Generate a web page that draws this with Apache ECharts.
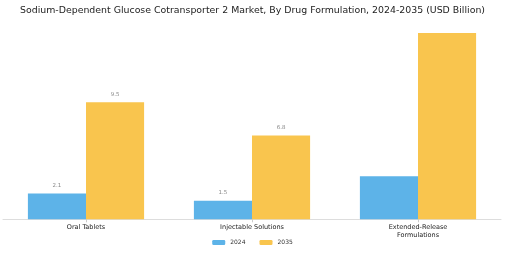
<!DOCTYPE html>
<html><head><meta charset="utf-8">
<script src="https://cdn.jsdelivr.net/npm/echarts@6/dist/echarts.min.js"></script>
<style>html,body{margin:0;padding:0;background:#fff}#c{width:505px;height:253px}</style>
</head><body><div id="c"></div>
<script>
var categories = ['Oral Tablets', 'Injectable Solutions', 'Extended-Release\nFormulations'];
var values2024 = [2.1, 1.5, 3.5];
var values2035 = [9.5, 6.8, 15.1];
var showLabel = [true, true, false];
var seriesNames = ['2024', '2035'];
var colors = ['#5DB3E8', '#F9C54E'];

function mk(vals) {
  return vals.map(function (v, i) {
    return { value: v, label: { show: showLabel[i] } };
  });
}
var chart = echarts.init(document.getElementById('c'), null, { renderer: 'canvas' });
chart.setOption({
  animation: false,
  title: {
    text: 'Sodium-Dependent Glucose Cotransporter 2 Market, By Drug Formulation, 2024-2035 (USD Billion)',
    left: 'center', top: 1,
    textStyle: { fontFamily: 'DejaVu Sans', fontSize: 9.4, fontWeight: 'normal', color: '#222' }
  },
  legend: {
    bottom: 2.5, left: 'center', itemWidth: 13, itemHeight: 5, itemGap: 14,
    textStyle: { fontFamily: 'DejaVu Sans', fontSize: 6, color: '#333', padding: [0, 0, 0, 0] },
    data: seriesNames
  },
  grid: { left: 3, right: 4, top: 22, bottom: 33.7, containLabel: false },
  xAxis: {
    type: 'category', data: categories,
    axisLine: { lineStyle: { color: '#ddd' } },
    axisTick: { show: true, alignWithLabel: true, length: 3, lineStyle: { color: '#ccc' } },
    axisLabel: { fontFamily: 'DejaVu Sans', fontSize: 6.5, color: '#222', margin: 4, lineHeight: 8, interval: 0 }
  },
  yAxis: { type: 'value', min: 0, max: 16, show: false, splitLine: { show: false } },
  series: [
    { name: seriesNames[0], type: 'bar', data: mk(values2024), barGap: '0%', barCategoryGap: '30%',
      itemStyle: { color: colors[0] },
      label: { position: 'top', distance: 5, fontFamily: 'DejaVu Sans', fontSize: 5.5, color: '#888' } },
    { name: seriesNames[1], type: 'bar', data: mk(values2035), barGap: '0%', barCategoryGap: '30%',
      itemStyle: { color: colors[1] },
      label: { position: 'top', distance: 5, fontFamily: 'DejaVu Sans', fontSize: 5.5, color: '#888' } }
  ]
});
</script></body></html>
